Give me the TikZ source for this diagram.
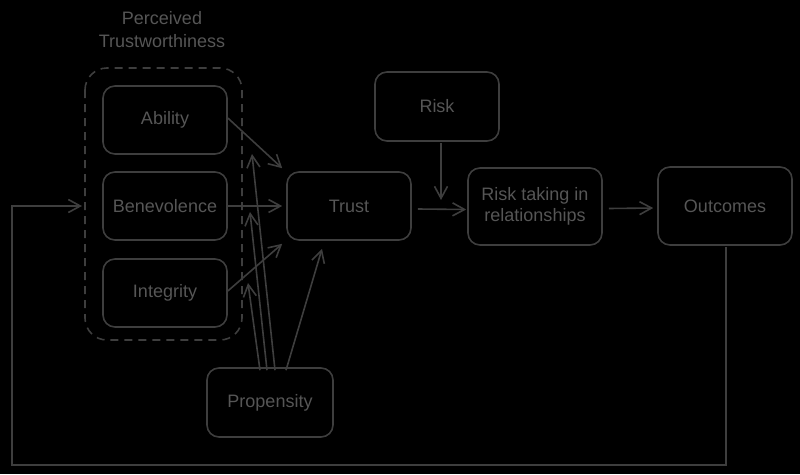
\documentclass[tikz,border=0pt]{standalone}
\usepackage{fontspec}
\setmainfont{Liberation Sans}
\usetikzlibrary{arrows.meta,calc}
\definecolor{ink}{HTML}{3E3E3E}
\definecolor{txt}{HTML}{565656}
\tikzset{
  box/.style={draw=ink, line width=1.6pt, rounded corners=12pt, minimum width=124pt, minimum height=68pt, align=center, text=txt, font=\fontsize{18}{21}\selectfont, inner sep=2pt},
  arr/.style={draw=ink, line width=1.6pt, -{Straight Barb[length=12pt,width=13pt,line width=1.6pt]}},
  grp/.style={draw=ink, line width=1.6pt, rounded corners=22pt, dash pattern=on 8pt off 6pt},
  lbl/.style={text=txt, font=\fontsize{18}{23}\selectfont, align=center}
}
\begin{document}
\begin{tikzpicture}[x=1pt,y=-1pt]
\fill[black] (0,0) rectangle (800,474);
\useasboundingbox (0,0) rectangle (800,474);

\node[lbl] (title) at (162,30) {Perceived\\Trustworthiness};
\draw[grp] (85,68) rectangle (242,340);
\coordinate (grpw) at (85,206);

\node[box] (abil) at (165,120) {Ability};
\node[box] (bene) at (165,206) {Benevolence};
\node[box] (integ) at (165,293) {Integrity};
\node[box] (trust) at (349,206) {Trust};
\node[box, minimum height=69pt] (risk) at (437,106.5) {Risk};
\node[box, minimum width=134pt, minimum height=77pt] (rtake) at (535,206.5) {Risk taking in\\relationships};
\node[box, minimum width=134pt, minimum height=78pt] (outc) at (725,206) {Outcomes};
\node[box, minimum width=126pt, minimum height=69pt] (prop) at (270,402.5) {Propensity};

% trustworthiness -> trust
\draw[arr] ([yshift=2pt]abil.east) -- ([xshift=-4pt,yshift=3pt]trust.north west);
\draw[arr] (bene.east) -- ([xshift=-4pt]trust.west);
\draw[arr] ([yshift=2pt]integ.east) -- ([xshift=-4pt,yshift=-3pt]trust.south west);

% propensity arrows
\coordinate (pa) at (252,154);
\coordinate (pb) at (250,212);
\coordinate (pc) at (248,283);
\draw[arr] ([xshift=5pt,yshift=-3pt]prop.north) -- (pa);
\draw[arr] ([xshift=-3pt,yshift=-3pt]prop.north) -- (pb);
\draw[arr] ([xshift=-10pt,yshift=-3pt]prop.north) -- (pc);
\draw[arr] ([xshift=16pt,yshift=-3pt]prop.north) -- ([xshift=-27pt,yshift=-8pt]trust.south);

% risk path
\coordinate (rj) at (441,200);
\draw[arr] ([xshift=4pt,yshift=-1pt]risk.south) -- (rj);
\draw[arr] ([xshift=6pt,yshift=-3pt]trust.east) -- ([xshift=-1pt,yshift=-3pt]rtake.west);
\draw[arr] ([xshift=6pt,yshift=-2pt]rtake.east) -- ([xshift=-4pt,yshift=-2pt]outc.west);

% feedback loop
\draw[arr] ([xshift=1pt,yshift=-1pt]outc.south) -- ++(0,218) -| (12,206) -- ([xshift=-3pt]grpw);
\end{tikzpicture}
\end{document}
